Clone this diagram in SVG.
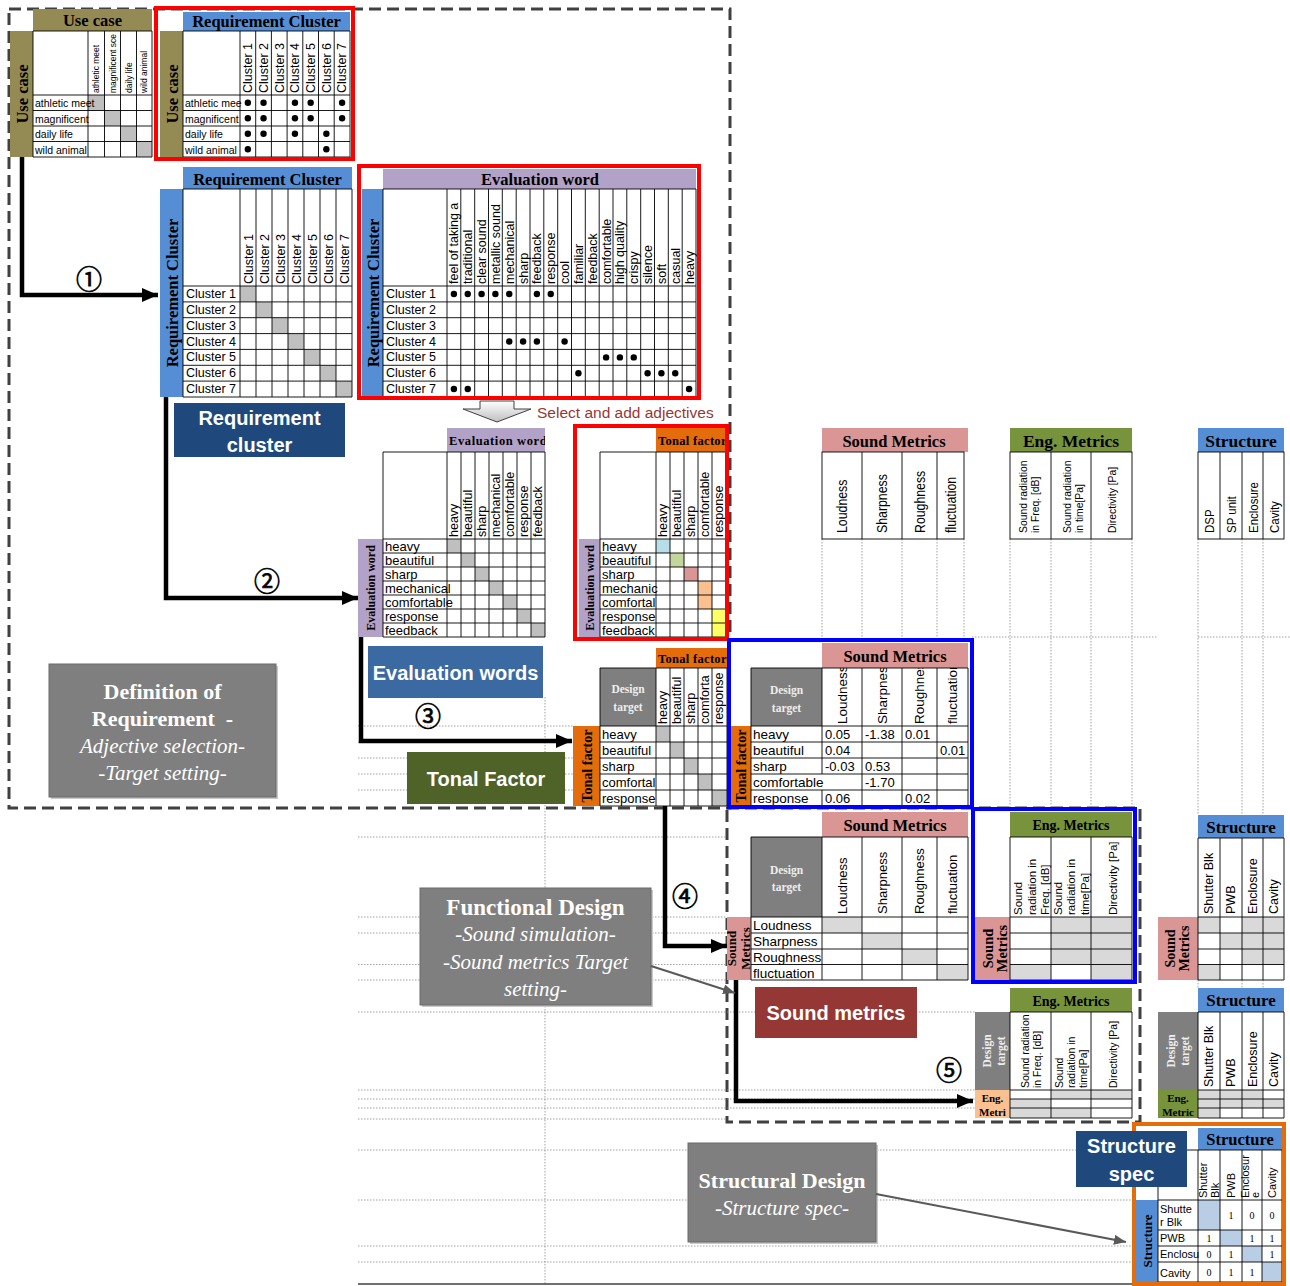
<svg xmlns="http://www.w3.org/2000/svg" width="1290" height="1286" viewBox="0 0 1290 1286">
<defs>
<style>
.g{fill:none;stroke:#000;stroke-width:0.9}
.hs{font-family:"Liberation Serif","Times New Roman",serif;font-weight:bold;fill:#000}
.hc{text-anchor:middle}
.t{font-family:"Liberation Sans",Arial,sans-serif;fill:#000}
.dot{fill:#000}
.dg{fill:#BFBFBF}
.lg{fill:#D9D9D9}
.dt{fill:none;stroke:#8C8C8C;stroke-width:0.8;stroke-dasharray:1.5 1.5}
.dash{fill:none;stroke:#404040;stroke-width:3;stroke-dasharray:12 6}
.conn{fill:none;stroke:#000;stroke-width:4.5}
.call{fill:none;stroke:#595959;stroke-width:2}
.lbl{font-family:"Liberation Sans",Arial,sans-serif;font-weight:bold;fill:#fff;font-size:20px;text-anchor:middle}
.dtg{fill:#7F7F7F}
.dtt{font-family:"Liberation Serif",serif;font-weight:bold;fill:#EEEEEE;font-size:11.5px;text-anchor:middle}
.box{fill:#7F7F7F;stroke:#6A6A6A;stroke-width:1}
.shd{fill:#C8C8C8}
.bt{font-family:"Liberation Serif","Times New Roman",serif;fill:#fff;text-anchor:middle}
.num{font-family:"Noto Sans CJK JP","DejaVu Sans",sans-serif;font-size:26px;fill:#000;stroke:#000;stroke-width:0.7;text-anchor:middle}
.wf{fill:#fff}
.wb{fill:#fff;stroke:#000;stroke-width:0.9}
.red{fill:none;stroke:#FF0000;stroke-width:4}
.blu{fill:none;stroke:#0000FF;stroke-width:4}
.olive{fill:#948A54}
.rcb{fill:#558ED5}
.pur{fill:#B3A2C7}
.org{fill:#E46C0A}
.pnk{fill:#DA9694}
.grn{fill:#77933C}
</style>
<marker id="ah" markerUnits="userSpaceOnUse" markerWidth="16" markerHeight="16" viewBox="0 0 16 16" refX="16" refY="8" orient="auto"><path d="M0,1L16,8L0,15z" fill="#000"/></marker>
<marker id="ag" markerUnits="userSpaceOnUse" markerWidth="12" markerHeight="10" viewBox="0 0 12 10" refX="12" refY="5" orient="auto"><path d="M0,0L12,5L0,10z" fill="#595959"/></marker>
<linearGradient id="arrg" x1="0" y1="0" x2="0" y2="1"><stop offset="0" stop-color="#FFFFFF"/><stop offset="1" stop-color="#BFBFBF"/></linearGradient>
<clipPath id="cE"><rect x="447" y="428" width="98" height="24"/></clipPath>
<clipPath id="cF"><rect x="656" y="428" width="71" height="24"/></clipPath>
<clipPath id="cG"><rect x="656" y="648" width="71" height="20"/></clipPath>
<clipPath id="cH"><rect x="822" y="668" width="146" height="58"/></clipPath>
<clipPath id="cA"><rect x="88" y="31" width="64" height="64"/></clipPath>
</defs>

<g id="frames">
<rect class="dash" x="9" y="9" width="721" height="799"/>
<rect class="dash" x="727" y="808" width="413" height="314"/>
</g>

<g id="guides">
<path class="dt" d="M358,726H573M358,742H573M358,758H573M358,774H573M358,790H573"/>
<path class="dt" d="M358,837H727M358,917H727M358,933H727M358,964.5H727M358,980H727"/>
<path class="dt" d="M358,1012H975M358,1090H975M358,1099H975M358,1108H975M358,1119H727"/>
<path class="dt" d="M358,1150H1134M358,1200H1134M358,1246H1134M358,1262H1134"/>
<path class="dt" d="M545,697V1284"/>
<path class="dt" d="M822,539V640M862,539V640M902,539V640M937,539V640M964,539V640"/>
<path class="dt" d="M1010,539V810M1051,539V810M1091,539V810M1132,539V810"/>
<path class="dt" d="M1198,539V815M1242,539V815M1263,539V815M1198,980V988M1242,980V988M1263,980V988"/>
<path class="dt" d="M972,637H1158M1198,637H1290"/>
<path d="M358,1284H1134" stroke="#404040" stroke-width="1.5" fill="none"/>
</g>

<g id="uc-uc">
<rect class="olive" x="33" y="9" width="119" height="22"/>
<text class="hs hc" x="92.5" y="26" font-size="16.5">Use case</text>
<rect class="olive" x="10" y="31" width="23" height="126"/>
<text class="hs hc" font-size="16.5" transform="translate(27.5,94) rotate(-90)">Use case</text>
<rect class="wf" x="33" y="31" width="119" height="126"/>
<rect class="dg" x="88" y="95" width="16.5" height="15.5"/>
<rect class="dg" x="104.5" y="110.5" width="16" height="15.5"/>
<rect class="dg" x="120.5" y="126" width="16" height="15.5"/>
<rect class="dg" x="136.5" y="141.5" width="15.5" height="15.5"/>
<path class="g" d="M33,31H152V157H33ZM88,31V157M104.5,31V157M120.5,31V157M136.5,31V157M33,95H152M33,110.5H152M33,126H152M33,141.5H152"/>
<g class="t" font-size="10.5">
<text x="35" y="107">athletic meet</text>
<text x="35" y="122.5">magnificent</text>
<text x="35" y="138">daily life</text>
<text x="35" y="153.5">wild animal</text>
</g>
<g class="t" font-size="8.5" clip-path="url(#cA)">
<text transform="translate(99.3,93) rotate(-90)">athletic meet</text>
<text transform="translate(115.5,93) rotate(-90)">magnificent sce</text>
<text transform="translate(131.5,93) rotate(-90)">daily life</text>
<text transform="translate(147.3,93) rotate(-90)">wild animal</text>
</g>
</g>

<g id="uc-rc">
<rect class="rcb" x="183" y="12" width="167" height="19"/>
<text class="hs hc" x="266.5" y="27" font-size="16.5">Requirement Cluster</text>
<rect class="olive" x="160" y="31" width="23" height="126"/>
<text class="hs hc" font-size="16.5" transform="translate(177.5,94) rotate(-90)">Use case</text>
<rect class="wf" x="183" y="31" width="167" height="126"/>
<path class="g" d="M183,31H350V157H183ZM240,31V157M255.7,31V157M271.4,31V157M287.1,31V157M302.8,31V157M318.5,31V157M334.2,31V157M183,95H350M183,110.5H350M183,126H350M183,141.5H350"/>
<g class="t" font-size="12.5">
<text transform="translate(252.2,93) rotate(-90)">Cluster 1</text>
<text transform="translate(267.9,93) rotate(-90)">Cluster 2</text>
<text transform="translate(283.6,93) rotate(-90)">Cluster 3</text>
<text transform="translate(299.3,93) rotate(-90)">Cluster 4</text>
<text transform="translate(315,93) rotate(-90)">Cluster 5</text>
<text transform="translate(330.7,93) rotate(-90)">Cluster 6</text>
<text transform="translate(346.4,93) rotate(-90)">Cluster 7</text>
</g>
<g class="t" font-size="10.5">
<text x="185" y="107">athletic mee</text>
<text x="185" y="122.5">magnificent</text>
<text x="185" y="138">daily life</text>
<text x="185" y="153.5">wild animal</text>
</g>
<g class="dot">
<circle cx="247.85" cy="102.75" r="3.2"/><circle cx="263.55" cy="102.75" r="3.2"/><circle cx="294.95" cy="102.75" r="3.2"/><circle cx="310.65" cy="102.75" r="3.2"/><circle cx="342.1" cy="102.75" r="3.2"/>
<circle cx="247.85" cy="118.25" r="3.2"/><circle cx="263.55" cy="118.25" r="3.2"/><circle cx="294.95" cy="118.25" r="3.2"/><circle cx="310.65" cy="118.25" r="3.2"/><circle cx="342.1" cy="118.25" r="3.2"/>
<circle cx="247.85" cy="133.75" r="3.2"/><circle cx="263.55" cy="133.75" r="3.2"/><circle cx="294.95" cy="133.75" r="3.2"/><circle cx="326.35" cy="133.75" r="3.2"/>
<circle cx="247.85" cy="149.25" r="3.2"/><circle cx="326.35" cy="149.25" r="3.2"/>
</g>
<rect class="red" x="156" y="8" width="197" height="151"/>
</g>

<g id="rc-rc">
<rect class="rcb" x="183" y="167" width="169" height="22"/>
<text class="hs hc" x="267.5" y="184.5" font-size="16.5">Requirement Cluster</text>
<rect class="rcb" x="160" y="189" width="23" height="208"/>
<text class="hs hc" font-size="16.5" transform="translate(177.5,293) rotate(-90)">Requirement Cluster</text>
<rect class="wf" x="183" y="189" width="169" height="208"/>
<rect class="dg" x="240" y="286" width="16" height="15.9"/>
<rect class="dg" x="256" y="301.9" width="16" height="15.8"/>
<rect class="dg" x="272" y="317.7" width="16" height="15.9"/>
<rect class="dg" x="288" y="333.6" width="16" height="15.8"/>
<rect class="dg" x="304" y="349.4" width="16" height="15.9"/>
<rect class="dg" x="320" y="365.3" width="16" height="15.8"/>
<rect class="dg" x="336" y="381.1" width="16" height="15.9"/>
<path class="g" d="M183,189H352V397H183ZM240,189V397M256,189V397M272,189V397M288,189V397M304,189V397M320,189V397M336,189V397M183,286H352M183,301.9H352M183,317.7H352M183,333.6H352M183,349.4H352M183,365.3H352M183,381.1H352"/>
<g class="t" font-size="12.5">
<text transform="translate(252.5,284) rotate(-90)">Cluster 1</text>
<text transform="translate(268.5,284) rotate(-90)">Cluster 2</text>
<text transform="translate(284.5,284) rotate(-90)">Cluster 3</text>
<text transform="translate(300.5,284) rotate(-90)">Cluster 4</text>
<text transform="translate(316.5,284) rotate(-90)">Cluster 5</text>
<text transform="translate(332.5,284) rotate(-90)">Cluster 6</text>
<text transform="translate(348.5,284) rotate(-90)">Cluster 7</text>
<text x="186" y="298">Cluster 1</text>
<text x="186" y="313.9">Cluster 2</text>
<text x="186" y="329.7">Cluster 3</text>
<text x="186" y="345.6">Cluster 4</text>
<text x="186" y="361.4">Cluster 5</text>
<text x="186" y="377.3">Cluster 6</text>
<text x="186" y="393.1">Cluster 7</text>
</g>
</g>

<g id="rc-ew">
<rect class="pur" x="383" y="169" width="313" height="20"/>
<text class="hs hc" x="540" y="185" font-size="16.5">Evaluation word</text>
<rect class="rcb" x="362" y="189" width="21" height="208"/>
<text class="hs hc" font-size="16.5" transform="translate(378.5,293) rotate(-90)">Requirement Cluster</text>
<rect class="wf" x="383" y="189" width="313" height="208"/>
<path class="g" d="M383,189H696V397H383ZM447,189V397M460.8,189V397M474.7,189V397M488.5,189V397M502.3,189V397M516.2,189V397M530,189V397M543.8,189V397M557.7,189V397M571.5,189V397M585.3,189V397M599.2,189V397M613,189V397M626.8,189V397M640.7,189V397M654.5,189V397M668.3,189V397M682.2,189V397M383,286H696M383,301.9H696M383,317.7H696M383,333.6H696M383,349.4H696M383,365.3H696M383,381.1H696"/>
<g class="t" font-size="12.5">
<text transform="translate(458.3,284) rotate(-90)">feel of taking a</text>
<text transform="translate(472.2,284) rotate(-90)">traditional</text>
<text transform="translate(486,284) rotate(-90)">clear sound</text>
<text transform="translate(499.8,284) rotate(-90)">metallic sound</text>
<text transform="translate(513.7,284) rotate(-90)">mechanical</text>
<text transform="translate(527.5,284) rotate(-90)">sharp</text>
<text transform="translate(541.3,284) rotate(-90)">feedback</text>
<text transform="translate(555.2,284) rotate(-90)">response</text>
<text transform="translate(569,284) rotate(-90)">cool</text>
<text transform="translate(582.8,284) rotate(-90)">familiar</text>
<text transform="translate(596.7,284) rotate(-90)">feedback</text>
<text transform="translate(610.5,284) rotate(-90)">comfortable</text>
<text transform="translate(624.3,284) rotate(-90)">high quality</text>
<text transform="translate(638.2,284) rotate(-90)">crispy</text>
<text transform="translate(652,284) rotate(-90)">silence</text>
<text transform="translate(665.8,284) rotate(-90)">soft</text>
<text transform="translate(679.7,284) rotate(-90)">casual</text>
<text transform="translate(693.5,284) rotate(-90)">heavy</text>
<text x="386" y="298">Cluster 1</text>
<text x="386" y="313.9">Cluster 2</text>
<text x="386" y="329.7">Cluster 3</text>
<text x="386" y="345.6">Cluster 4</text>
<text x="386" y="361.4">Cluster 5</text>
<text x="386" y="377.3">Cluster 6</text>
<text x="386" y="393.1">Cluster 7</text>
</g>
<g class="dot">
<circle cx="453.9" cy="294" r="3.2"/><circle cx="467.75" cy="294" r="3.2"/><circle cx="481.6" cy="294" r="3.2"/><circle cx="495.4" cy="294" r="3.2"/><circle cx="509.25" cy="294" r="3.2"/><circle cx="536.9" cy="294" r="3.2"/><circle cx="550.75" cy="294" r="3.2"/>
<circle cx="509.25" cy="341.5" r="3.2"/><circle cx="523.1" cy="341.5" r="3.2"/><circle cx="536.9" cy="341.5" r="3.2"/><circle cx="564.6" cy="341.5" r="3.2"/>
<circle cx="606.1" cy="357.4" r="3.2"/><circle cx="619.9" cy="357.4" r="3.2"/><circle cx="633.75" cy="357.4" r="3.2"/>
<circle cx="578.4" cy="373.2" r="3.2"/><circle cx="647.6" cy="373.2" r="3.2"/><circle cx="661.4" cy="373.2" r="3.2"/><circle cx="675.25" cy="373.2" r="3.2"/>
<circle cx="453.9" cy="389" r="3.2"/><circle cx="467.75" cy="389" r="3.2"/><circle cx="689.1" cy="389" r="3.2"/>
</g>
<rect class="red" x="359" y="166" width="340" height="232"/>
</g>

<g id="select-arrow">
<polygon points="480,401 514,401 514,409 531,409 497,422 463,409 480,409" fill="url(#arrg)" stroke="#404040" stroke-width="1"/>
<text x="537" y="418" font-family="Liberation Sans,Arial,sans-serif" font-size="15.5" fill="#953735">Select and add adjectives</text>
</g>

<g id="lbl-rc">
<rect x="174" y="403" width="171" height="54" fill="#1F497D"/>
<text class="lbl" x="259.5" y="425">Requirement</text>
<text class="lbl" x="259.5" y="452">cluster</text>
</g>

<g id="ew-ew">
<rect class="pur" x="447" y="428" width="98" height="24"/>
<text class="hs" x="449" y="445" font-size="12.5" letter-spacing="0.6" clip-path="url(#cE)">Evaluation words</text>
<rect class="wf" x="383" y="452" width="162" height="185"/>
<rect class="pur" x="358" y="539" width="25" height="98"/>
<text class="hs hc" font-size="12" transform="translate(375,588) rotate(-90)">Evaluation word</text>
<rect class="dg" x="447" y="539" width="14" height="14"/>
<rect class="dg" x="461" y="553" width="14" height="14"/>
<rect class="dg" x="475" y="567" width="14" height="14"/>
<rect class="dg" x="489" y="581" width="14" height="14"/>
<rect class="dg" x="503" y="595" width="14" height="14"/>
<rect class="dg" x="517" y="609" width="14" height="14"/>
<rect class="dg" x="531" y="623" width="14" height="14"/>
<path class="g" d="M383,452H545V637H383ZM447,452V637M461,452V637M475,452V637M489,452V637M503,452V637M517,452V637M531,452V637M383,539H545M383,553H545M383,567H545M383,581H545M383,595H545M383,609H545M383,623H545"/>
<g class="t" font-size="12.5">
<text transform="translate(458.4,537) rotate(-90)">heavy</text>
<text transform="translate(472.4,537) rotate(-90)">beautiful</text>
<text transform="translate(486.4,537) rotate(-90)">sharp</text>
<text transform="translate(500.4,537) rotate(-90)">mechanical</text>
<text transform="translate(514.4,537) rotate(-90)">comfortable</text>
<text transform="translate(528.4,537) rotate(-90)">response</text>
<text transform="translate(542.4,537) rotate(-90)">feedback</text>
</g>
<g class="t" font-size="13">
<text x="385" y="550.5">heavy</text>
<text x="385" y="564.5">beautiful</text>
<text x="385" y="578.5">sharp</text>
<text x="385" y="592.5">mechanical</text>
<text x="385" y="606.5">comfortable</text>
<text x="385" y="620.5">response</text>
<text x="385" y="634.5">feedback</text>
</g>
</g>

<g id="ew-tf">
<rect class="org" x="656" y="428" width="71" height="24"/>
<text class="hs" x="658" y="445" font-size="12.5" letter-spacing="0.3" clip-path="url(#cF)">Tonal factor</text>
<rect class="wf" x="600" y="452" width="126" height="185"/>
<rect class="pur" x="579" y="539" width="21" height="98"/>
<text class="hs hc" font-size="12" transform="translate(594,588) rotate(-90)">Evaluation word</text>
<rect x="656" y="539" width="14" height="14" fill="#B7DEE8"/>
<rect x="670" y="553" width="14" height="14" fill="#C3D69B"/>
<rect x="684" y="567" width="14" height="14" fill="#DA9694"/>
<rect x="698" y="581" width="14" height="14" fill="#FAC090"/>
<rect x="698" y="595" width="14" height="14" fill="#FAC090"/>
<rect x="712" y="609" width="14" height="14" fill="#FFFF66"/>
<rect x="712" y="623" width="14" height="14" fill="#FFFF66"/>
<path class="g" d="M600,452H726V637H600ZM656,452V637M670,452V637M684,452V637M698,452V637M712,452V637M600,539H726M600,553H726M600,567H726M600,581H726M600,595H726M600,609H726M600,623H726"/>
<g class="t" font-size="12.5">
<text transform="translate(667.4,537) rotate(-90)">heavy</text>
<text transform="translate(681.4,537) rotate(-90)">beautiful</text>
<text transform="translate(695.4,537) rotate(-90)">sharp</text>
<text transform="translate(709.4,537) rotate(-90)">comfortable</text>
<text transform="translate(723.4,537) rotate(-90)">response</text>
</g>
<g class="t" font-size="13">
<text x="602" y="550.5">heavy</text>
<text x="602" y="564.5">beautiful</text>
<text x="602" y="578.5">sharp</text>
<text x="602" y="592.5">mechanic</text>
<text x="602" y="606.5">comfortal</text>
<text x="602" y="620.5">response</text>
<text x="602" y="634.5">feedback</text>
</g>
<rect class="red" x="575" y="426" width="152" height="213"/>
</g>

<g id="lbl-ew">
<rect x="368" y="646" width="175" height="52" fill="#3B6AA3"/>
<text class="lbl" x="455.5" y="680">Evaluation words</text>
</g>

<g id="tf-tf">
<rect class="org" x="656" y="648" width="71" height="20"/>
<text class="hs" x="658" y="663" font-size="12.5" letter-spacing="0.3" clip-path="url(#cG)">Tonal factor</text>
<rect class="dtg" x="600" y="668" width="56" height="58"/>
<text class="dtt" x="628" y="693">Design</text>
<text class="dtt" x="628" y="711">target</text>
<rect class="wf" x="656" y="668" width="71" height="138"/>
<rect class="wf" x="600" y="726" width="56" height="80"/>
<rect class="org" x="573" y="726" width="27" height="80"/>
<text class="hs hc" font-size="14" transform="translate(591.5,766) rotate(-90)">Tonal factor</text>
<rect class="dg" x="656" y="726" width="14" height="16"/>
<rect class="dg" x="670" y="742" width="14" height="16"/>
<rect class="dg" x="684" y="758" width="14" height="16"/>
<rect class="dg" x="698" y="774" width="14" height="16"/>
<rect class="dg" x="712" y="790" width="15" height="16"/>
<path class="g" d="M600,668H727V806H600ZM656,668V806M670,668V806M684,668V806M698,668V806M712,668V806M600,726H727M600,742H727M600,758H727M600,774H727M600,790H727"/>
<g class="t" font-size="12.5">
<text transform="translate(667.4,724) rotate(-90)">heavy</text>
<text transform="translate(681.4,724) rotate(-90)">beautiful</text>
<text transform="translate(695.4,724) rotate(-90)">sharp</text>
<text transform="translate(709.4,724) rotate(-90)">comforta</text>
<text transform="translate(723.4,724) rotate(-90)">response</text>
</g>
<g class="t" font-size="13">
<text x="602" y="738.5">heavy</text>
<text x="602" y="754.5">beautiful</text>
<text x="602" y="770.5">sharp</text>
<text x="602" y="786.5">comfortal</text>
<text x="602" y="802.5">response</text>
</g>
</g>

<g id="lbl-tf">
<rect x="407" y="752" width="158" height="52" fill="#4F6228"/>
<text class="lbl" x="486" y="786">Tonal Factor</text>
</g>

<g id="tf-sm">
<rect class="wf" x="731" y="641" width="239" height="165"/>
<rect class="pnk" x="822" y="643" width="146" height="25"/>
<text class="hs hc" x="895" y="662" font-size="16.5">Sound Metrics</text>
<rect class="dtg" x="751" y="668" width="71" height="58"/>
<text class="dtt" x="786.5" y="694">Design</text>
<text class="dtt" x="786.5" y="712">target</text>
<rect class="org" x="731" y="726" width="20" height="80"/>
<text class="hs hc" font-size="14" transform="translate(746,766) rotate(-90)">Tonal factor</text>
<path class="g" d="M751,668H968V806H751ZM822,668V774M822,790V806M862,668V806M902,668V806M937,668V806M751,726H968M751,742H968M751,758H968M751,774H968M751,790H968"/>
<g class="t" font-size="13.5" clip-path="url(#cH)">
<text transform="translate(846.5,724) rotate(-90)">Loudness</text>
<text transform="translate(886.5,724) rotate(-90)">Sharpness</text>
<text transform="translate(924,724) rotate(-90)">Roughness</text>
<text transform="translate(957,724) rotate(-90)">fluctuation</text>
</g>
<g class="t" font-size="13.5">
<text x="753" y="739">heavy</text>
<text x="753" y="755">beautiful</text>
<text x="753" y="771">sharp</text>
<text x="753" y="787">comfortable</text>
<text x="753" y="803">response</text>
</g>
<g class="t" font-size="13">
<text x="825" y="738.5">0.05</text><text x="865" y="738.5">-1.38</text><text x="905" y="738.5">0.01</text>
<text x="825" y="754.5">0.04</text><text x="940" y="754.5">0.01</text>
<text x="825" y="770.5">-0.03</text><text x="865" y="770.5">0.53</text>
<text x="865" y="786.5">-1.70</text>
<text x="825" y="802.5">0.06</text><text x="905" y="802.5">0.02</text>
</g>
<rect class="blu" x="729" y="640" width="243" height="167"/>
</g>

<g id="sm-head">
<rect class="pnk" x="822" y="428" width="146" height="24"/>
<text class="hs hc" x="894" y="447" font-size="16.5">Sound Metrics</text>
<rect class="wb" x="822" y="452" width="142" height="87"/>
<path class="g" d="M862,452V539M902,452V539M937,452V539"/>
<g class="t" font-size="14.5">
<text transform="translate(847,533) rotate(-90) scale(0.85,1)">Loudness</text>
<text transform="translate(887,533) rotate(-90) scale(0.85,1)">Sharpness</text>
<text transform="translate(924.5,533) rotate(-90) scale(0.85,1)">Roughness</text>
<text transform="translate(955.5,533) rotate(-90) scale(0.85,1)">fluctuation</text>
</g>
</g>

<g id="em-head">
<rect class="grn" x="1010" y="428" width="122" height="24"/>
<text class="hs hc" x="1071" y="447" font-size="17.5">Eng. Metrics</text>
<rect class="wb" x="1010" y="452" width="122" height="87"/>
<path class="g" d="M1051,452V539M1091,452V539"/>
<g class="t" font-size="11.5">
<text transform="translate(1027,533) rotate(-90) scale(0.9,1)">Sound radiation</text>
<text transform="translate(1039,533) rotate(-90) scale(0.9,1)">in Freq. [dB]</text>
<text transform="translate(1071,533) rotate(-90) scale(0.9,1)">Sound radiation</text>
<text transform="translate(1083,533) rotate(-90) scale(0.9,1)">in time[Pa]</text>
<text transform="translate(1116,533) rotate(-90) scale(0.9,1)">Directivity [Pa]</text>
</g>
</g>

<g id="st-head">
<rect class="rcb" x="1198" y="428" width="86" height="24"/>
<text class="hs hc" x="1241" y="447" font-size="17.5">Structure</text>
<rect class="wb" x="1198" y="452" width="86" height="87"/>
<path class="g" d="M1220,452V539M1242,452V539M1263,452V539"/>
<g class="t" font-size="13.5">
<text transform="translate(1214,533) rotate(-90) scale(0.85,1)">DSP</text>
<text transform="translate(1236,533) rotate(-90) scale(0.85,1)">SP unit</text>
<text transform="translate(1257.5,533) rotate(-90) scale(0.85,1)">Enclosure</text>
<text transform="translate(1278.5,533) rotate(-90) scale(0.85,1)">Cavity</text>
</g>
</g>

<g id="sm-sm">
<rect class="wf" x="751" y="812" width="217" height="168"/>
<rect class="pnk" x="822" y="812" width="146" height="25"/>
<text class="hs hc" x="895" y="831" font-size="16.5">Sound Metrics</text>
<rect class="dtg" x="751" y="837" width="71" height="80"/>
<text class="dtt" x="786.5" y="874">Design</text>
<text class="dtt" x="786.5" y="891">target</text>
<rect class="pnk" x="727" y="917" width="24" height="63"/>
<text class="hs hc" font-size="13" transform="translate(736,948.5) rotate(-90)">Sound</text>
<text class="hs hc" font-size="13" transform="translate(750,948.5) rotate(-90)">Metrics</text>
<rect class="lg" x="822" y="917" width="40" height="16"/>
<rect class="lg" x="862" y="933" width="40" height="16"/>
<rect class="lg" x="902" y="949" width="35" height="15.5"/>
<rect class="lg" x="937" y="964.5" width="31" height="15.5"/>
<path class="g" d="M751,837H968V980H751ZM822,837V980M862,837V980M902,837V980M937,837V980M751,917H968M751,933H968M751,949H968M751,964.5H968"/>
<g class="t" font-size="13">
<text transform="translate(846.5,914) rotate(-90)">Loudness</text>
<text transform="translate(886.5,914) rotate(-90)">Sharpness</text>
<text transform="translate(924,914) rotate(-90)">Roughness</text>
<text transform="translate(957,914) rotate(-90)">fluctuation</text>
</g>
<g class="t" font-size="13.5">
<text x="753" y="930">Loudness</text>
<text x="753" y="946">Sharpness</text>
<text x="753" y="962">Roughness</text>
<text x="753" y="977.5">fluctuation</text>
</g>
</g>

<g id="sm-em">
<rect class="wf" x="975" y="812" width="157" height="168"/>
<rect class="grn" x="1010" y="812" width="122" height="25"/>
<text class="hs hc" x="1071" y="830" font-size="14">Eng. Metrics</text>
<rect class="pnk" x="975" y="917" width="35" height="63"/>
<text class="hs hc" font-size="14.5" transform="translate(993,948.5) rotate(-90)">Sound</text>
<text class="hs hc" font-size="14.5" transform="translate(1007,948.5) rotate(-90)">Metrics</text>
<rect class="lg" x="1051" y="917" width="81" height="16"/>
<rect class="lg" x="1051" y="933" width="81" height="16"/>
<rect class="lg" x="1051" y="949" width="81" height="15.5"/>
<rect class="lg" x="1010" y="964.5" width="41" height="15.5"/>
<rect class="lg" x="1091" y="964.5" width="41" height="15.5"/>
<path class="g" d="M1010,837H1132V980H1010ZM1051,837V980M1091,837V980M1010,917H1132M1010,933H1132M1010,949H1132M1010,964.5H1132"/>
<g class="t" font-size="11.5">
<text transform="translate(1022,915) rotate(-90)">Sound</text>
<text transform="translate(1036,915) rotate(-90)">radiation in</text>
<text transform="translate(1049,915) rotate(-90)">Freq. [dB]</text>
<text transform="translate(1062,915) rotate(-90)">Sound</text>
<text transform="translate(1075,915) rotate(-90)">radiation in</text>
<text transform="translate(1089,915) rotate(-90)">time[Pa]</text>
<text transform="translate(1117,915) rotate(-90)">Directivity [Pa]</text>
</g>
<rect class="blu" x="973" y="809" width="162" height="173"/>
</g>

<g id="sm-st">
<rect class="wf" x="1198" y="815" width="86" height="165"/>
<rect class="rcb" x="1198" y="815" width="86" height="23"/>
<text class="hs hc" x="1241" y="833" font-size="17">Structure</text>
<rect class="pnk" x="1158" y="917" width="40" height="63"/>
<text class="hs hc" font-size="14" transform="translate(1175,948.5) rotate(-90)">Sound</text>
<text class="hs hc" font-size="14" transform="translate(1189,948.5) rotate(-90)">Metrics</text>
<rect class="lg" x="1198" y="917" width="22" height="16"/>
<rect class="lg" x="1242" y="917" width="42" height="16"/>
<rect class="lg" x="1220" y="933" width="64" height="16"/>
<rect class="lg" x="1242" y="949" width="42" height="15.5"/>
<rect class="lg" x="1198" y="964.5" width="22" height="15.5"/>
<path class="g" d="M1198,838H1284V980H1198ZM1220,838V980M1242,838V980M1263,838V980M1198,917H1284M1198,933H1284M1198,949H1284M1198,964.5H1284"/>
<g class="t" font-size="12.5">
<text transform="translate(1213.4,914) rotate(-90)">Shutter Blk</text>
<text transform="translate(1235.4,914) rotate(-90)">PWB</text>
<text transform="translate(1257,914) rotate(-90)">Enclosure</text>
<text transform="translate(1278,914) rotate(-90)">Cavity</text>
</g>
</g>

<g id="lbl-sm">
<rect x="755" y="987" width="162" height="51" fill="#953735"/>
<text class="lbl" x="836" y="1020">Sound metrics</text>
</g>

<g id="dt-em">
<rect class="wf" x="1010" y="988" width="122" height="130"/>
<rect class="grn" x="1010" y="988" width="122" height="24"/>
<text class="hs hc" x="1071" y="1006" font-size="14">Eng. Metrics</text>
<rect class="dtg" x="975" y="1012" width="35" height="78"/>
<text class="dtt" transform="translate(990.5,1051) rotate(-90)">Design</text>
<text class="dtt" transform="translate(1004.5,1051) rotate(-90)">target</text>
<rect x="975" y="1090" width="35" height="28" fill="#FAC090"/>
<text class="hs hc" x="992.5" y="1102" font-size="11">Eng.</text>
<text class="hs hc" x="992.5" y="1115.5" font-size="11">Metri</text>
<rect class="lg" x="1051" y="1090" width="81" height="9"/>
<rect class="lg" x="1010" y="1099" width="41" height="9"/>
<rect class="lg" x="1010" y="1108" width="81" height="10"/>
<path class="g" d="M1010,1012H1132V1118H1010ZM1051,1012V1118M1091,1012V1118M1010,1090H1132M1010,1099H1132M1010,1108H1132"/>
<g class="t" font-size="10.5">
<text transform="translate(1029,1088) rotate(-90)">Sound radiation</text>
<text transform="translate(1041,1088) rotate(-90)">in Freq. [dB]</text>
<text transform="translate(1063,1088) rotate(-90)">Sound</text>
<text transform="translate(1075,1088) rotate(-90)">radiation in</text>
<text transform="translate(1087,1088) rotate(-90)">time[Pa]</text>
<text transform="translate(1117,1088) rotate(-90)">Directivity [Pa]</text>
</g>
</g>

<g id="dt-st">
<rect class="wf" x="1198" y="988" width="86" height="130"/>
<rect class="rcb" x="1198" y="988" width="86" height="24"/>
<text class="hs hc" x="1241" y="1006" font-size="17">Structure</text>
<rect class="dtg" x="1158" y="1012" width="40" height="78"/>
<text class="dtt" transform="translate(1175,1051) rotate(-90)">Design</text>
<text class="dtt" transform="translate(1189,1051) rotate(-90)">target</text>
<rect class="grn" x="1158" y="1090" width="40" height="28"/>
<text class="hs hc" x="1178" y="1102" font-size="11">Eng.</text>
<text class="hs hc" x="1178" y="1115.5" font-size="11">Metric</text>
<rect class="lg" x="1198" y="1090" width="65" height="9"/>
<rect class="lg" x="1198" y="1099" width="86" height="9"/>
<rect class="lg" x="1198" y="1108" width="22" height="10"/>
<path class="g" d="M1198,1012H1284V1118H1198ZM1220,1012V1118M1242,1012V1118M1263,1012V1118M1198,1090H1284M1198,1099H1284M1198,1108H1284"/>
<g class="t" font-size="12.5">
<text transform="translate(1213.4,1087) rotate(-90)">Shutter Blk</text>
<text transform="translate(1235.4,1087) rotate(-90)">PWB</text>
<text transform="translate(1257,1087) rotate(-90)">Enclosure</text>
<text transform="translate(1278,1087) rotate(-90)">Cavity</text>
</g>
</g>

<g id="st-st">
<rect class="wf" x="1136" y="1126" width="146" height="156"/>
<rect class="rcb" x="1198" y="1128" width="84" height="22"/>
<text class="hs hc" x="1240" y="1145" font-size="16.5">Structure</text>
<rect class="rcb" x="1136" y="1200" width="22" height="82"/>
<text class="hs hc" font-size="13" transform="translate(1151.5,1241) rotate(-90)">Structure</text>
<rect x="1198" y="1200" width="22" height="30" fill="#B9CDE5"/>
<rect x="1220" y="1230" width="22" height="16" fill="#B9CDE5"/>
<rect x="1242" y="1246" width="20" height="16" fill="#B9CDE5"/>
<rect x="1262" y="1262" width="20" height="20" fill="#B9CDE5"/>
<path class="g" d="M1158,1150H1282V1282H1158ZM1198,1150V1282M1220,1150V1282M1242,1150V1282M1262,1150V1282M1158,1200H1282M1158,1230H1282M1158,1246H1282M1158,1262H1282"/>
<g class="t" font-size="11">
<text transform="translate(1207,1198) rotate(-90)">Shutter</text>
<text transform="translate(1218.5,1198) rotate(-90)">Blk</text>
<text transform="translate(1235,1198) rotate(-90)">PWB</text>
<text transform="translate(1249,1198) rotate(-90)">Enclosur</text>
<text transform="translate(1259,1198) rotate(-90)">e</text>
<text transform="translate(1276,1198) rotate(-90)">Cavity</text>
<text x="1160" y="1213">Shutte</text>
<text x="1160" y="1226">r Blk</text>
<text x="1160" y="1242">PWB</text>
<text x="1160" y="1258">Enclosu</text>
<text x="1160" y="1277">Cavity</text>
</g>
<g font-family="Liberation Serif,serif" font-size="10" text-anchor="middle" fill="#000">
<text x="1231" y="1219">1</text><text x="1252" y="1219">0</text><text x="1272" y="1219">0</text>
<text x="1209" y="1242">1</text><text x="1252" y="1242">1</text><text x="1272" y="1242">1</text>
<text x="1209" y="1258">0</text><text x="1231" y="1258">1</text><text x="1272" y="1258">1</text>
<text x="1209" y="1276">0</text><text x="1231" y="1276">1</text><text x="1252" y="1276">1</text>
</g>
<rect x="1134" y="1124" width="150" height="160" fill="none" stroke="#E46C0A" stroke-width="4"/>
</g>

<g id="lbl-ss">
<rect x="1076" y="1131" width="111" height="56" fill="#1F497D"/>
<text class="lbl" x="1131.5" y="1153">Structure</text>
<text class="lbl" x="1131.5" y="1181">spec</text>
</g>

<g id="box-def">
<rect class="shd" x="51" y="666" width="227" height="133"/>
<rect class="box" x="49" y="664" width="227" height="133"/>
<text class="bt" x="162.5" y="699" font-size="22" font-weight="bold">Definition of</text>
<text class="bt" x="162.5" y="726" font-size="22" font-weight="bold" xml:space="preserve">Requirement  -</text>
<text class="bt" x="162.5" y="753" font-size="21" font-style="italic">Adjective selection-</text>
<text class="bt" x="162.5" y="780" font-size="21" font-style="italic">-Target setting-</text>
</g>

<g id="box-func">
<rect class="shd" x="422" y="890" width="231" height="117"/>
<rect class="box" x="420" y="888" width="231" height="117"/>
<text class="bt" x="535.5" y="915" font-size="23" font-weight="bold">Functional Design</text>
<text class="bt" x="535.5" y="941" font-size="21" font-style="italic">-Sound simulation-</text>
<text class="bt" x="535.5" y="969" font-size="21" font-style="italic">-Sound metrics Target</text>
<text class="bt" x="535.5" y="996" font-size="21" font-style="italic">setting-</text>
</g>

<g id="box-struct">
<rect class="shd" x="690" y="1145" width="188" height="99"/>
<rect class="box" x="688" y="1143" width="188" height="99"/>
<text class="bt" x="782" y="1188" font-size="22" font-weight="bold">Structural Design</text>
<text class="bt" x="782" y="1215" font-size="21" font-style="italic">-Structure spec-</text>
</g>

<g id="connectors">
<path class="conn" d="M22,157V295H158" marker-end="url(#ah)"/>
<path class="conn" d="M166,397V598H358" marker-end="url(#ah)"/>
<path class="conn" d="M361,637V741H572" marker-end="url(#ah)"/>
<path class="conn" d="M665,806V946H727" marker-end="url(#ah)"/>
<path class="conn" d="M736,980V1101H973" marker-end="url(#ah)"/>
<path class="call" d="M651,966L735,993" marker-end="url(#ag)"/>
<path class="call" d="M876,1194L1126,1242" marker-end="url(#ag)"/>
<text class="num" x="89" y="289">①</text>
<text class="num" x="267" y="591">②</text>
<text class="num" x="428" y="726">③</text>
<text class="num" x="685" y="906">④</text>
<text class="num" x="949" y="1080">⑤</text>
</g>
</svg>
